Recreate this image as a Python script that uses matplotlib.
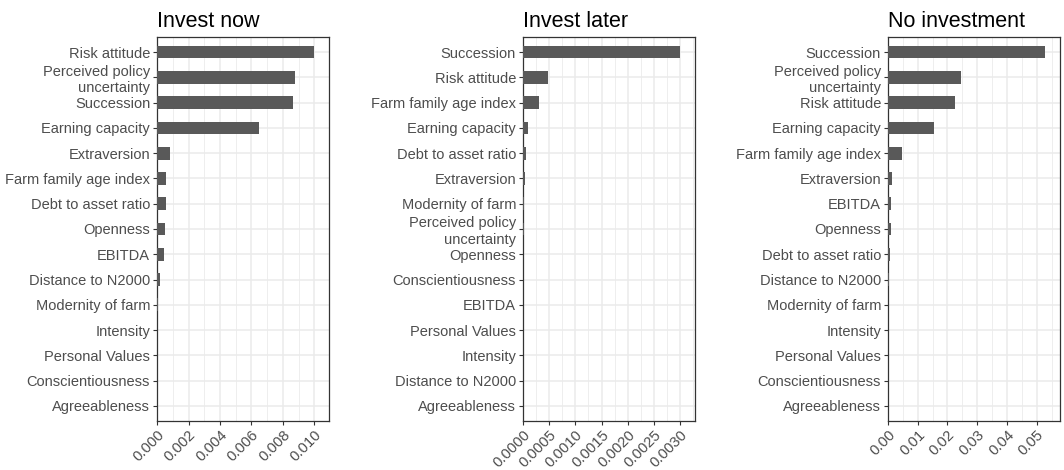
import matplotlib
matplotlib.use("Agg")
import matplotlib.pyplot as plt
from matplotlib.ticker import FixedLocator

plt.rcParams['font.family'] = ['Liberation Sans', 'DejaVu Sans']

titles = ["Invest now", "Invest later", "No investment"]

cats_now = ["Risk attitude", "Perceived policy\nuncertainty", "Succession", "Earning capacity",
            "Extraversion", "Farm family age index", "Debt to asset ratio", "Openness", "EBITDA",
            "Distance to N2000", "Modernity of farm", "Intensity", "Personal Values",
            "Conscientiousness", "Agreeableness"]
vals_now = [0.00996, 0.00875, 0.00865, 0.00651, 0.00080, 0.00059, 0.00055, 0.00049, 0.00044,
            0.00019, 0.00006, 0.00001, 0.0, 0.0, 0.0]

cats_later = ["Succession", "Risk attitude", "Farm family age index", "Earning capacity",
              "Debt to asset ratio", "Extraversion", "Modernity of farm",
              "Perceived policy\nuncertainty", "Openness", "Conscientiousness", "EBITDA",
              "Personal Values", "Intensity", "Distance to N2000", "Agreeableness"]
vals_later = [0.00299, 0.000485, 0.000306, 0.000102, 0.000057, 0.000032, 0.000015, 0.000015,
              0.000002, 0.000001, 0.0, 0.0, 0.0, 0.0, 0.0]

cats_none = ["Succession", "Perceived policy\nuncertainty", "Risk attitude", "Earning capacity",
             "Farm family age index", "Extraversion", "EBITDA", "Openness", "Debt to asset ratio",
             "Distance to N2000", "Modernity of farm", "Intensity", "Personal Values",
             "Conscientiousness", "Agreeableness"]
vals_none = [0.0527, 0.0245, 0.0226, 0.0155, 0.0047, 0.00135, 0.0010, 0.0010, 0.0007,
             0.0003, 0.0001, 0.00002, 0.0, 0.0, 0.0]

xticks_now = [0.000, 0.002, 0.004, 0.006, 0.008, 0.010]
xlabels_now = ["0.000", "0.002", "0.004", "0.006", "0.008", "0.010"]
xticks_later = [0.0, 0.0005, 0.0010, 0.0015, 0.0020, 0.0025, 0.0030]
xlabels_later = ["0.0000", "0.0005", "0.0010", "0.0015", "0.0020", "0.0025", "0.0030"]
xticks_none = [0.00, 0.01, 0.02, 0.03, 0.04, 0.05]
xlabels_none = ["0.00", "0.01", "0.02", "0.03", "0.04", "0.05"]

panels = [
    (cats_now, vals_now, xticks_now, xlabels_now, 0.1476),
    (cats_later, vals_later, xticks_later, xlabels_later, 0.4915),
    (cats_none, vals_none, xticks_none, xlabels_none, 0.8346),
]

fig = plt.figure(figsize=(10.64, 4.70), dpi=100)
fig.patch.set_facecolor("white")

grid_col = "#EBEBEB"
text_col = "#4D4D4D"
for (cats, vals, xt, xl, left), title in zip(panels, titles):
    ax = fig.add_axes([left, 0.1043, 0.1620, 0.817])
    n = len(cats)
    ys = list(range(n))
    ax.barh(ys, vals, height=0.5, color="#595959", zorder=3)
    ax.set_ylim(n - 1 + 0.6, -0.6)
    ax.set_xlim(0, max(vals) * 1.1)
    ax.set_yticks(ys)
    ax.set_yticklabels(cats, fontsize=10.5, color=text_col, multialignment="right",
                       linespacing=1.2)
    ax.set_xticks(xt)
    ax.set_xticklabels(xl, fontsize=10.7, color=text_col, rotation=45, ha="right",
                       va="top", rotation_mode="anchor")
    step = xt[1] - xt[0]
    minors = [xt[0] + step * (i + 0.5) for i in range(len(xt) + 1)]
    ax.xaxis.set_minor_locator(FixedLocator(minors))
    ax.grid(True, which="major", axis="both", color=grid_col, linewidth=1.1, zorder=0)
    ax.grid(True, which="minor", axis="x", color=grid_col, linewidth=0.6, zorder=0)
    ax.tick_params(axis="both", which="major", length=3, width=0.8, color="#333333", pad=2)
    ax.tick_params(axis="x", which="minor", length=0)
    for s in ax.spines.values():
        s.set_color("#333333")
        s.set_linewidth(0.9)
    ax.set_axisbelow(True)
    ax.set_title(title, loc="left", fontsize=15.5, pad=7)

fig.savefig("out.png", dpi=100, facecolor="white")
